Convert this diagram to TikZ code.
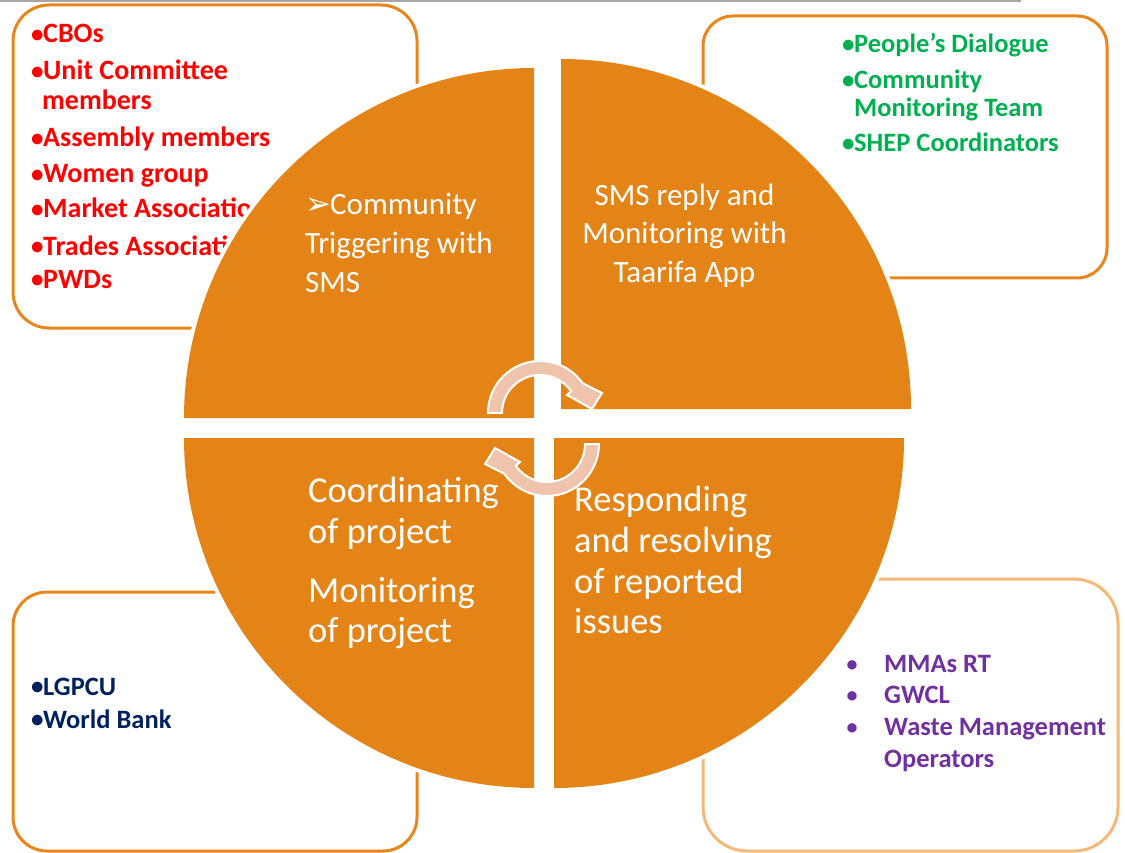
\documentclass[tikz,border=0pt]{standalone}
\usepackage{fontspec}
\setmainfont{Carlito}
\newfontfamily\dingfont{DejaVu Sans}
\usetikzlibrary{calc}
\definecolor{quadorange}{HTML}{E48316}
\definecolor{boxorange}{HTML}{E8861C}
\definecolor{lightboxorange}{HTML}{F4B878}
\definecolor{cyclepeach}{HTML}{F0C3AD}
\definecolor{listred}{HTML}{FF0000}
\definecolor{listgreen}{HTML}{00B050}
\definecolor{listblue}{HTML}{002060}
\definecolor{listpurple}{HTML}{7030A0}
\definecolor{rulegray}{HTML}{A6A6A6}

% list bullet: a small dot in a fixed-width box
\newcommand{\lbul}{\makebox[12pt][l]{\raisebox{0.3pt}{\fontsize{25}{25}\selectfont •}}}

\begin{document}
\begin{tikzpicture}[x=1pt,y=-1pt,
  framebox/.style={draw=boxorange, line width=3pt},
  halo/.style={fill=white},
  quad/.style={fill=quadorange},
  quadtext/.style={text=white, inner sep=0pt, font=\fontsize{31}{38}\selectfont},
  biglabel/.style={text=white, inner sep=0pt, anchor=base west, font=\fontsize{36.5}{41}\selectfont},
  item/.style={inner sep=0pt, anchor=base west, font=\bfseries\fontsize{26.5}{30}\selectfont},
  reditem/.style={item, text=listred, font=\bfseries\fontsize{28}{30}\selectfont},
  cyclearrow/.style={fill=cyclepeach, draw=white, line width=2pt, line join=miter},
]
\useasboundingbox (0,0) rectangle (1125,853);

% thin rule along the top edge
\coordinate (ruleL) at (0,1);
\coordinate (ruleR) at (1021,1);
\draw[rulegray, line width=2pt] (ruleL) -- (ruleR);

% the four stakeholder frames
\draw[framebox, rounded corners=36pt] (13,5) rectangle (417,328);
\draw[framebox, rounded corners=30pt] (703,16) rectangle (1107,278);
\draw[framebox, rounded corners=34pt] (13,592) rectangle (417,851);
\draw[framebox, draw=lightboxorange, rounded corners=44pt] (703,579) rectangle (1118,851);

% community groups (red)
\node[reditem] (r1) at (31,43)  {\lbul CBOs};
\node[reditem] (r2) at (31,80)  {\lbul Unit Committee};
\node[reditem] (r3) at (42,110) {members};
\node[reditem] (r4) at (31,147) {\lbul Assembly members};
\node[reditem] (r5) at (31,183) {\lbul Women group};
\node[reditem] (r6) at (31,218) {\lbul Market Associations};
\node[reditem] (r7) at (31,255) {\lbul Trades Associations};
\node[reditem] (r8) at (31,288) {\lbul PWDs};

% monitoring partners (green)
\node[item, text=listgreen] (g1) at (842,53)  {\lbul People’s Dialogue};
\node[item, text=listgreen] (g2) at (842,89)  {\lbul Community};
\node[item, text=listgreen] (g3) at (854,117) {Monitoring Team};
\node[item, text=listgreen] (g4) at (842,152) {\lbul SHEP Coordinators};

% coordination bodies (blue)
\node[item, text=listblue] (b1) at (31,695) {\lbul LGPCU};
\node[item, text=listblue] (b2) at (31,728) {\lbul World Bank};

% service providers (purple)
\foreach \yy/\txt [count=\i] in {672/MMAs RT, 703/GWCL, 735/Waste Management}{
  \node[item, anchor=base, text=listpurple] (pb\i) at (852,\yy) {\raisebox{0.6pt}{\fontsize{22}{22}\selectfont •}};
  \node[item, text=listpurple] (p\i) at (884,\yy) {\txt};
}
\node[item, text=listpurple] (p4) at (884,767) {Operators};

% white halos behind the quadrants
\fill[halo] (534,418) -- ++(-354,0) arc[start angle=180,end angle=270,radius=354] -- cycle;
\fill[halo] (561,409) -- ++(0,-354) arc[start angle=270,end angle=360,radius=354] -- cycle;
\fill[halo] (554,438) -- ++(354,0) arc[start angle=0,end angle=90,radius=354] -- cycle;
\fill[halo] (534,438) -- ++(0,354) arc[start angle=90,end angle=180,radius=354] -- cycle;

% the four quadrants of the cycle
\fill[quad] (534,418) -- ++(-350,0) arc[start angle=180,end angle=270,radius=350] -- cycle;
\fill[quad] (561,409) -- ++(0,-350) arc[start angle=270,end angle=360,radius=350] -- cycle;
\fill[quad] (554,438) -- ++(350,0) arc[start angle=0,end angle=90,radius=350] -- cycle;
\fill[quad] (534,438) -- ++(0,350) arc[start angle=90,end angle=180,radius=350] -- cycle;

% quadrant captions
\node[quadtext, anchor=base west] (tlmark) at (305,215) {\dingfont\fontsize{31}{31}\selectfont ➢};
\node[quadtext, anchor=base west] (tl1) at (330,215)   {Community};
\node[quadtext, anchor=base west] (tl2) at (305,253.5) {Triggering with};
\node[quadtext, anchor=base west] (tl3) at (305,292)   {SMS};

\node[quadtext, anchor=base] (tr1) at (684.5,206) {SMS reply and};
\node[quadtext, anchor=base] (tr2) at (684.5,244) {Monitoring with};
\node[quadtext, anchor=base] (tr3) at (684.5,283) {Taarifa App};

\node[biglabel] (bl1) at (308,502) {Coordinating};
\node[biglabel] (bl2) at (308,543) {of project};
\node[biglabel] (bl3) at (308,602) {Monitoring};
\node[biglabel] (bl4) at (308,642) {of project};

\node[biglabel] (br1) at (574,511) {Responding};
\node[biglabel] (br2) at (574,552) {and resolving};
\node[biglabel] (br3) at (574,593) {of reported};
\node[biglabel] (br4) at (574,633) {issues};

% circular arrows in the middle
\foreach \rot in {0,180}{
  \path[cyclearrow, rotate around={\rot:(543.5,428.5)}]
    (488,413) arc[start angle=180,end angle=325,radius=52]
    -- (602,393) -- (592,409) -- (567,395) -- (571.13,391.2)
    arc[start angle=325,end angle=180,radius=38] -- cycle;
}
\end{tikzpicture}
\end{document}
